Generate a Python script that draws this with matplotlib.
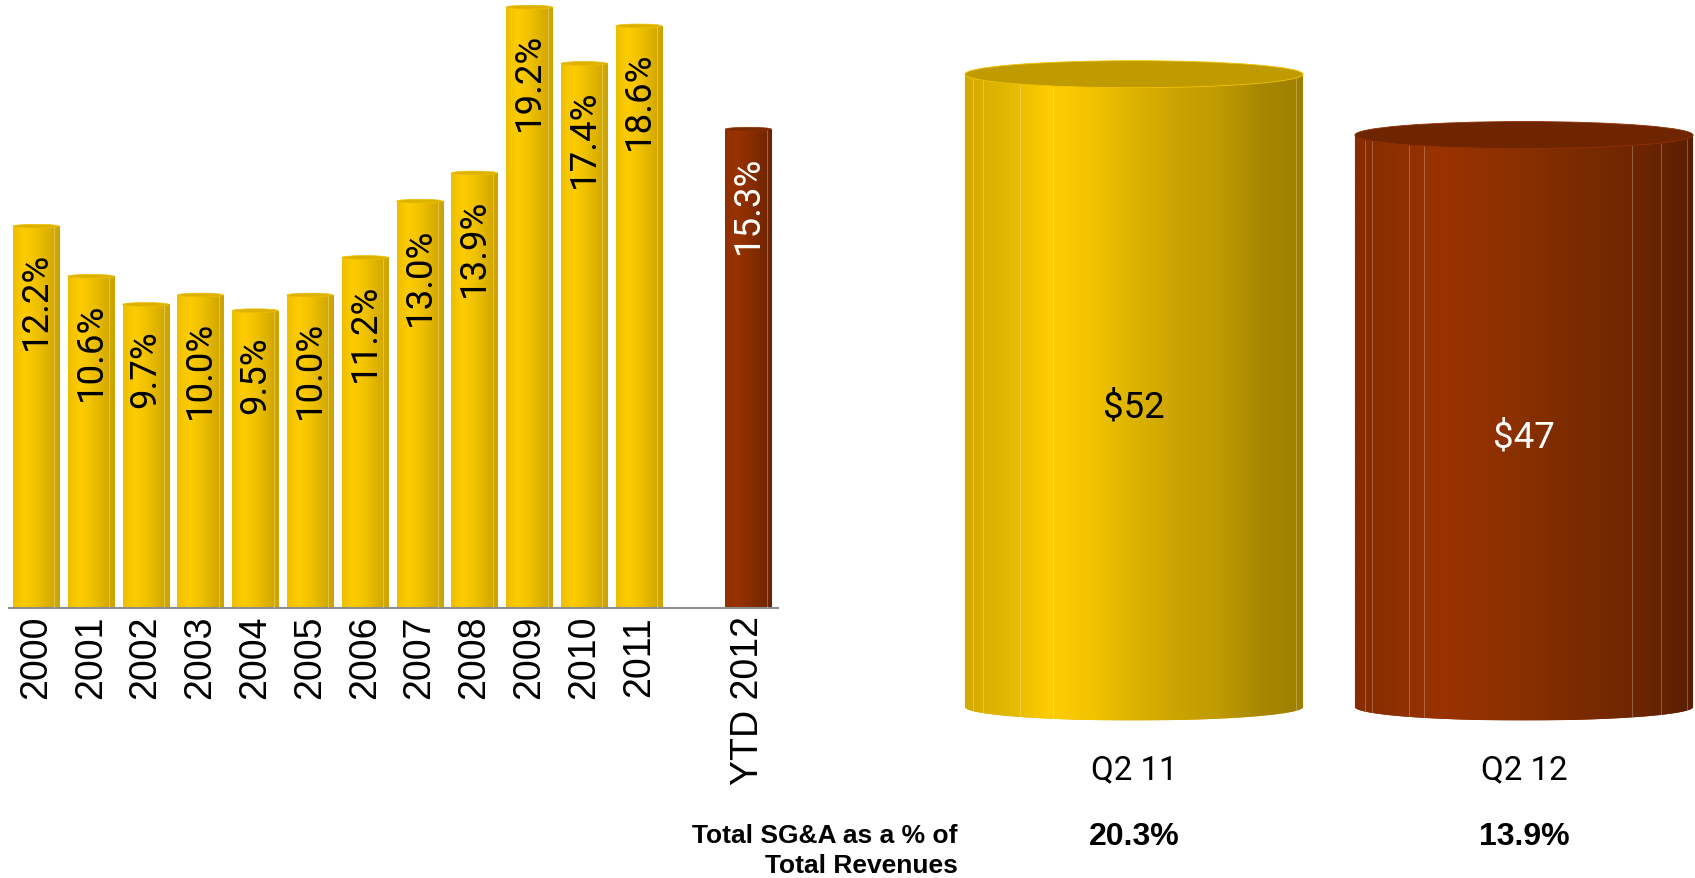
import numpy as np
import matplotlib
matplotlib.use("Agg")
import matplotlib.pyplot as plt
from matplotlib import font_manager, transforms
from matplotlib.colors import LinearSegmentedColormap
from matplotlib.patches import Ellipse, PathPatch
from matplotlib.path import Path

# SG&A as a % of revenue, by year
years = ["2000", "2001", "2002", "2003", "2004", "2005", "2006",
         "2007", "2008", "2009", "2010", "2011", "YTD 2012"]
sga_pct = [12.2, 10.6, 9.7, 10.0, 9.5, 10.0, 11.2, 13.0, 13.9, 19.2, 17.4, 18.6, 15.3]

# quarterly SG&A ($M) and share of total revenues
quarters = ["Q2 11", "Q2 12"]
sga_musd = [52, 47]
sga_rev_pct = [20.3, 13.9]

plt.rcParams["font.family"] = ["Liberation Sans", "DejaVu Sans"]
names = {f.name for f in font_manager.fontManager.ttflist}
if "Liberation Sans Narrow" in names:
    NARROW, NSCALE = "Liberation Sans Narrow", 1.0
else:
    NARROW, NSCALE = "Roboto", 0.88

GOLD = ["#EDBF00", "#FFCC00", "#F0C200", "#DDB100", "#CCA300"]
BROWN = ["#8F3000", "#993300", "#8A2E00", "#7A2900", "#6B2400"]
GOLD_CYL = ["#D4AA00", "#E3B800", "#FFCC00", "#F2C400", "#DDB200",
            "#CCA400", "#BF9A00", "#A88700", "#9E8000"]
BROWN_CYL = ["#852C00", "#8E3000", "#993300", "#933100", "#883000",
             "#7E2B00", "#752900", "#692400", "#5A1F00"]

W, H = 1695, 879
fig = plt.figure(figsize=(W / 100, H / 100), dpi=100)


def shade(ax, x0, x1, y0, y1, stops, clip, z=2):
    cmap = LinearSegmentedColormap.from_list("", stops)
    grad = np.linspace(0, 1, 256)[None, :]
    im = ax.imshow(grad, cmap=cmap, extent=(x0, x1, y0, y1), aspect="auto",
                   interpolation="bilinear", zorder=z)
    im.set_clip_path(clip)


# ---- left: yearly bars ----
axL = fig.add_axes([9 / W, 1 - 609 / H, 769 / W, 609 / H])
xpos = np.r_[np.arange(len(years) - 1), len(years)]
bw = 0.84
for i, (xi, v) in enumerate(zip(xpos, sga_pct)):
    last = i == len(years) - 1
    stops = BROWN if last else GOLD
    bar = axL.bar(xi, v, width=bw, color=stops[1], lw=0, zorder=2)[0]
    shade(axL, xi - bw / 2, xi + bw / 2, 0, v, stops, bar)
    axL.vlines(xi + bw * 0.4, 0, v, color="white", lw=0.6, alpha=0.35, zorder=3)
    axL.add_patch(Ellipse((xi, v), bw, 0.12, facecolor=stops[3],
                          edgecolor=stops[0], lw=0.5, zorder=3))
    axL.annotate(f"{v:.1f}%", (xi, v), xytext=(0, -18), textcoords="offset points",
                 rotation=90, ha="center", va="top", fontsize=30 * NSCALE,
                 family=NARROW, color="white" if last else "black", zorder=4)

axL.set_xlim(-0.493, 13.54)
axL.set_ylim(0, 19.46)
axL.set_xticks(xpos, years, rotation=90, fontsize=27)
axL.tick_params(axis="x", length=0, pad=5)
axL.set_yticks([])
for s in ["left", "right", "top"]:
    axL.spines[s].set_visible(False)
axL.spines["bottom"].set_color("#8c8c8c")
axL.spines["bottom"].set_linewidth(1.5)
axL.patch.set_alpha(0)

# ---- right: quarterly cylinders ----
axR = fig.add_axes([900 / W, 1 - 725 / H, 795 / W, 725 / H])
axR.axis("off")
cw = 0.867
b = 1.11
facets = [[0.024, 0.053, 0.163, 0.26, 0.98],
          [0.03, 0.05, 0.16, 0.205, 0.82, 0.905, 0.983]]
tr = transforms.blended_transform_factory(axR.transData, fig.transFigure)
for i, (q, v, p) in enumerate(zip(quarters, sga_musd, sga_rev_pct)):
    stops = GOLD_CYL if i == 0 else BROWN_CYL
    cap_col = "#BF9B00" if i == 0 else "#6E2500"
    x0, x1 = i - cw / 2, i + cw / 2
    t = np.linspace(np.pi, 2 * np.pi, 80)
    verts = [(x0, v)] + list(zip(i + cw / 2 * np.cos(t), b * np.sin(t))) + [(x1, v), (x0, v)]
    body = PathPatch(Path(verts, closed=True), transform=axR.transData,
                     facecolor=stops[4], edgecolor="none", zorder=2)
    axR.add_patch(body)
    shade(axR, x0, x1, -b, v, stops, body)
    for f in facets[i]:
        xf = x0 + f * cw
        dy = b * np.sqrt(max(0.0, 1 - ((xf - i) / (cw / 2)) ** 2))
        axR.vlines(xf, -dy, v - dy, color="white", lw=0.6, alpha=0.3, zorder=3)
    axR.add_patch(Ellipse((i, v), cw, 2 * b, facecolor=cap_col,
                          edgecolor=stops[3], lw=0.6, zorder=4))
    axR.text(i, v / 2 - 1.3, f"\\${v}", ha="center", va="center",
             fontsize=30 * NSCALE, family=NARROW,
             color="black" if i == 0 else "white", zorder=5)
    axR.text(i, -5.1, q, ha="center", va="center", fontsize=27 * NSCALE,
             family=NARROW)
    axR.text(i, 1 - 837 / H, f"{p:.1f}%", transform=tr, ha="center", va="center",
             fontsize=23, weight="bold")

axR.set_xlim(-0.6, 1.4385)
axR.set_ylim(-1.4, 58.18)

fig.text(958 / W, 1 - 851 / H, "Total SG&A as a % of\nTotal Revenues", ha="right",
         va="center", multialignment="right", fontsize=19, weight="bold",
         linespacing=1.3)

fig.savefig("out.png", dpi=100)
